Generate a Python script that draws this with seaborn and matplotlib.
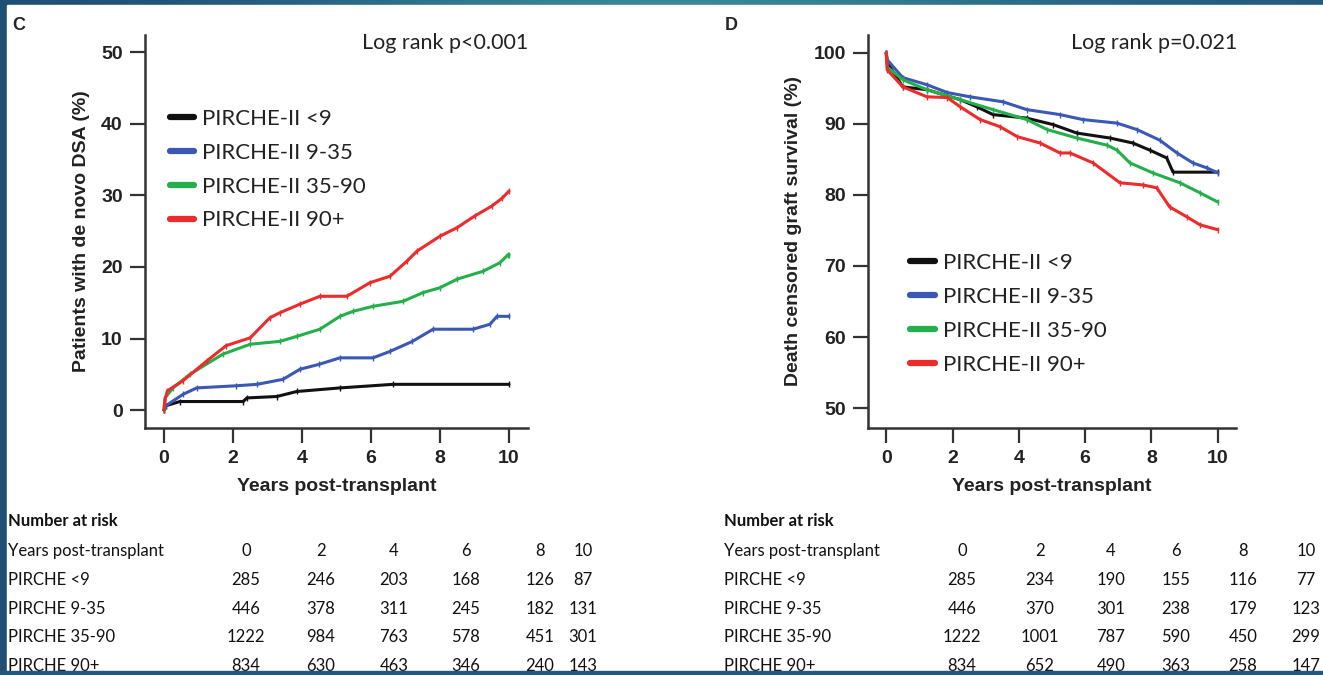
import numpy as np
import pandas as pd
import matplotlib.pyplot as plt
import seaborn as sns
from matplotlib.patches import Rectangle
from matplotlib.lines import Line2D
from matplotlib.colors import LinearSegmentedColormap

W, H = 1323, 675

groups = ['PIRCHE-II <9', 'PIRCHE-II 9-35', 'PIRCHE-II 35-90', 'PIRCHE-II 90+']
colors = ['#111111', '#3a58b4', '#23b04a', '#ee2b2b']

# panel C: cumulative incidence of de novo DSA (%)
c_lt9_t = [0, 0.05, 0.46, 2.3, 2.4, 3.27, 3.85, 5.1, 6.64, 10]
c_lt9_v = [0, 0.6, 1.2, 1.2, 1.7, 1.9, 2.6, 3.1, 3.6, 3.6]
c_935_t = [0, 0.05, 0.55, 0.95, 2.1, 2.7, 3.45, 3.94, 4.5, 5.1, 6.06, 6.55, 7.2, 7.8, 8.96, 9.45, 9.65, 10]
c_935_v = [0, 0.6, 2.2, 3.1, 3.4, 3.6, 4.3, 5.7, 6.4, 7.3, 7.3, 8.2, 9.6, 11.3, 11.3, 12.0, 13.1, 13.1]
c_3590_t = [0, 0.03, 0.26, 0.75, 1.7, 2.5, 3.36, 3.85, 4.52, 5.1, 5.48, 6.06, 6.93, 7.5, 8.0, 8.5, 9.25, 9.74, 9.97, 10]
c_3590_v = [0, 1.7, 3.1, 5.0, 7.8, 9.2, 9.6, 10.3, 11.3, 13.1, 13.8, 14.5, 15.2, 16.4, 17.1, 18.3, 19.4, 20.6, 21.7, 21.7]
c_90_t = [0, 0.03, 0.1, 0.55, 1.25, 1.8, 2.5, 3.07, 3.36, 3.94, 4.52, 5.3, 5.97, 6.55, 7.04, 7.33, 8.0, 8.5, 9.0, 9.5, 9.8, 10]
c_90_v = [0, 1.5, 2.7, 4.1, 6.9, 9.0, 10.1, 12.9, 13.6, 14.8, 15.9, 15.9, 17.8, 18.7, 20.8, 22.2, 24.3, 25.5, 27.1, 28.5, 29.6, 30.6]

# panel D: death censored graft survival (%)
d_lt9_t = [0, 0.03, 0.5, 1.23, 2.23, 2.73, 3.22, 4.24, 5.03, 5.75, 6.75, 7.44, 7.95, 8.46, 8.65, 10]
d_lt9_v = [100, 98.6, 95.2, 94.8, 93.4, 92.4, 91.3, 90.8, 89.9, 88.7, 88.0, 87.3, 86.3, 85.2, 83.2, 83.2]
d_935_t = [0, 0.03, 0.5, 1.23, 1.84, 2.53, 3.52, 4.24, 5.24, 5.93, 6.96, 7.56, 8.25, 8.77, 9.25, 9.67, 10]
d_935_v = [100, 99.0, 96.5, 95.5, 94.4, 93.8, 93.1, 92.0, 91.3, 90.6, 90.1, 89.2, 87.7, 85.9, 84.5, 83.8, 83.1]
d_3590_t = [0, 0.03, 0.5, 1.23, 2.23, 3.22, 4.24, 4.85, 5.75, 6.66, 6.96, 7.35, 8.04, 8.86, 9.46, 10]
d_3590_v = [100, 98.0, 96.2, 94.8, 93.4, 92.0, 90.6, 89.2, 88.0, 87.0, 86.3, 84.5, 83.1, 81.7, 80.3, 79.0]
d_90_t = [0, 0.03, 0.5, 1.23, 1.84, 2.23, 2.83, 3.43, 3.95, 4.64, 5.24, 5.54, 6.24, 7.05, 7.74, 8.16, 8.55, 9.07, 9.46, 10]
d_90_v = [100, 97.6, 95.2, 93.8, 93.7, 92.4, 90.6, 89.6, 88.2, 87.3, 85.9, 85.9, 84.5, 81.7, 81.4, 81.0, 78.3, 76.9, 75.8, 75.1]

years = ['0', '2', '4', '6', '8', '10']
risk_rows = ['PIRCHE <9', 'PIRCHE 9-35', 'PIRCHE 35-90', 'PIRCHE 90+']
risk_c = [[285, 246, 203, 168, 126, 87],
          [446, 378, 311, 245, 182, 131],
          [1222, 984, 763, 578, 451, 301],
          [834, 630, 463, 346, 240, 143]]
risk_d = [[285, 234, 190, 155, 116, 77],
          [446, 370, 301, 238, 179, 123],
          [1222, 1001, 787, 590, 450, 299],
          [834, 652, 490, 363, 258, 147]]


def long_frame(series):
    rows = []
    for name, (t, v) in zip(groups, series):
        for ti, vi in zip(t, v):
            rows.append({'time': ti, 'value': vi, 'group': name})
    return pd.DataFrame(rows)


df_c = long_frame([(c_lt9_t, c_lt9_v), (c_935_t, c_935_v), (c_3590_t, c_3590_v), (c_90_t, c_90_v)])
df_d = long_frame([(d_lt9_t, d_lt9_v), (d_935_t, d_935_v), (d_3590_t, d_3590_v), (d_90_t, d_90_v)])

sns.set_style('ticks')
plt.rcParams['font.family'] = ['Liberation Sans', 'DejaVu Sans']

fig = plt.figure(figsize=(W / 100, H / 100), dpi=100)


def px(x, y):
    return x / W, 1 - y / H


# slide background with white content area
bg = fig.add_axes([0, 0, 1, 1], zorder=-10)
grad = np.array([[0.0, 0.5, 1.0, 0.6, 0.2]])
cmap = LinearSegmentedColormap.from_list('slide', ['#1f4f74', '#3f8f9d'])
bg.imshow(grad, cmap=cmap, aspect='auto', extent=[0, W, H, 0], interpolation='bicubic')
bg.add_patch(Rectangle((7, 5), W, 666, color='white'))
bg.set_xlim(0, W)
bg.set_ylim(H, 0)
bg.axis('off')

calibri = ['Lato', 'DejaVu Sans']


def panel(box, df, ylim, yticks, ylabel, leg_anchor, ptext, ptext_x):
    ax = fig.add_axes(box)
    sns.lineplot(data=df, x='time', y='value', hue='group', hue_order=groups,
                 palette=colors, estimator=None, sort=False,
                 linewidth=2.2, marker='|', markersize=4, markeredgewidth=1.0,
                 legend=False, ax=ax)
    # censor ticks in the line colour, not seaborn's white edge
    for ln in ax.lines:
        ln.set_markeredgecolor(ln.get_color())
    ax.set_xlim(-0.55, 10.55)
    ax.set_ylim(*ylim)
    ax.set_xticks([0, 2, 4, 6, 8, 10])
    ax.set_yticks(yticks)
    sns.despine(ax=ax)
    for s in ['left', 'bottom']:
        ax.spines[s].set_linewidth(1.8)
        ax.spines[s].set_color('#333333')
    ax.tick_params(axis='both', direction='out', length=11, width=1.6, color='#333333',
                   labelsize=14, pad=5, labelcolor='#222222', bottom=True, left=True)
    for lab in ax.get_xticklabels() + ax.get_yticklabels():
        lab.set_fontweight('bold')
    ax.set_xlabel('Years post-transplant', fontsize=14, fontweight='bold', color='#222222', labelpad=8)
    ax.set_ylabel(ylabel, fontsize=14, fontweight='bold', color='#222222', labelpad=8)
    handles = [Line2D([], [], color=c, lw=4.5) for c in colors]
    ax.legend(handles, groups, loc='upper left', bbox_to_anchor=leg_anchor, frameon=False,
              handlelength=1.1, handletextpad=0.35, labelspacing=0.62, borderpad=0,
              prop={'family': calibri, 'size': 16}, labelcolor='#222222')
    fig.text(*px(ptext_x, 43), ptext, ha='right', va='center', fontsize=15.5,
             family=calibri, color='#222222')
    return ax


ax_c = panel([145 / W, 1 - 428 / H, 383 / W, 393 / H], df_c, (-2.5, 52.4),
             [0, 10, 20, 30, 40, 50], 'Patients with de novo DSA (%)',
             (0.035, 0.84), 'Log rank p<0.001', 528)
ax_d = panel([868 / W, 1 - 428 / H, 368 / W, 393 / H], df_d, (47.2, 102.5),
             [50, 60, 70, 80, 90, 100], 'Death censored graft survival (%)',
             (0.085, 0.473), 'Log rank p=0.021', 1237)

fig.text(*px(12, 26), 'C', fontsize=13, fontweight='bold', ha='left', va='center')
fig.text(*px(725, 26), 'D', fontsize=13, fontweight='bold', ha='left', va='center')


# number at risk tables
def risk_table(x0, cols, risk):
    fs = 12
    fig.text(*px(x0, 521), 'Number at risk', fontsize=fs, fontweight='bold',
             family=calibri, ha='left', va='center', color='#111111')
    fig.text(*px(x0, 551), 'Years post-transplant', fontsize=fs, family=calibri,
             ha='left', va='center', color='#111111')
    for x, yr in zip(cols, years):
        fig.text(*px(x, 551), yr, fontsize=fs, family=calibri, ha='center', va='center', color='#111111')
    for i, (name, vals) in enumerate(zip(risk_rows, risk)):
        y = 580 + i * 28.7
        fig.text(*px(x0, y), name, fontsize=fs, family=calibri, ha='left', va='center', color='#111111')
        for x, v in zip(cols, vals):
            fig.text(*px(x, y), str(v), fontsize=fs, family=calibri, ha='center', va='center', color='#111111')


risk_table(8, [246, 321, 394, 466, 540, 583], risk_c)
risk_table(724, [962, 1040, 1111, 1176, 1243, 1306], risk_d)

# bottom slide band cuts the last row
fig.patches.append(Rectangle((0, 0), 1, 4 / H, transform=fig.transFigure,
                             color='#24577a', zorder=20))

fig.savefig('out.png', dpi=100)
